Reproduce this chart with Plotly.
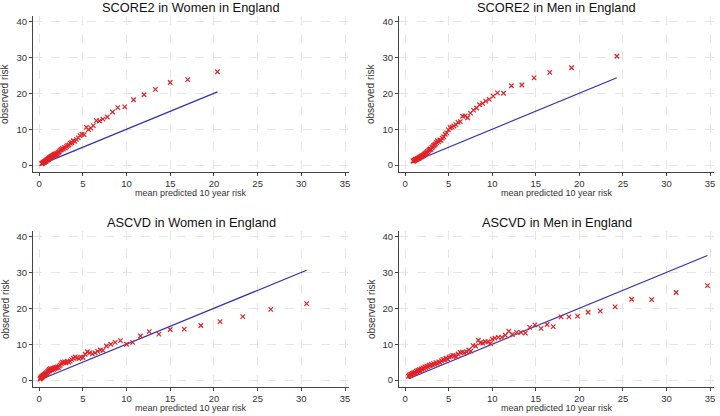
import plotly.graph_objects as go

# panel titles
titles = ["SCORE2 in Women in England", "SCORE2 in Men in England",
          "ASCVD in Women in England", "ASCVD in Men in England"]

# SCORE2, women: mean predicted vs observed 10 year risk (%)
score2_women_pred = [0.30, 0.35, 0.40, 0.45, 0.50, 0.55, 0.60, 0.65, 0.70, 0.75, 0.80, 0.85,
                     0.90, 0.95, 1.00, 1.05, 1.10, 1.15, 1.20, 1.25, 1.30, 1.36, 1.42, 1.48,
                     1.54, 1.60, 1.66, 1.72, 1.78, 1.85, 1.92, 2.00, 2.08, 2.16, 2.25, 2.34,
                     2.44, 2.54, 2.65, 2.76, 2.88, 3.00, 3.13, 3.27, 3.42, 3.57, 3.73, 3.90,
                     4.08, 4.27, 4.47, 4.68, 4.90, 5.15, 5.40, 5.65, 5.92, 6.20, 6.55, 6.90,
                     7.30, 7.80, 8.40, 9.00, 9.80, 10.8, 12.0, 13.3, 15.0, 17.0, 20.4]
score2_women_obs = [0.4, 0.5, 0.5, 0.7, 0.7, 0.9, 0.8, 1.0, 1.1, 1.2, 1.1, 1.4,
                    1.5, 1.4, 1.7, 1.6, 1.9, 1.8, 2.1, 1.9, 2.2, 2.4, 2.2, 2.6,
                    2.5, 2.8, 2.6, 3.0, 2.8, 3.1, 2.9, 3.3, 3.1, 3.5, 3.6, 3.9,
                    4.2, 4.3, 4.6, 4.5, 4.9, 4.8, 5.2, 5.5, 5.6, 6.1, 6.3, 6.8,
                    6.6, 7.1, 7.6, 8.2, 8.6, 8.5, 10.5, 9.9, 10.3, 11.0, 12.4, 12.3,
                    12.8, 13.4, 14.8, 16.0, 16.2, 18.2, 19.6, 21.1, 23.0, 23.8, 26.0]

# SCORE2, men
score2_men_pred = [0.90, 0.98, 1.05, 1.12, 1.18, 1.24, 1.30, 1.36, 1.42, 1.48, 1.54, 1.60,
                   1.66, 1.72, 1.78, 1.84, 1.90, 1.96, 2.02, 2.08, 2.14, 2.20, 2.27, 2.34,
                   2.41, 2.48, 2.55, 2.63, 2.71, 2.79, 2.88, 2.97, 3.06, 3.16, 3.26, 3.37,
                   3.48, 3.60, 3.72, 3.85, 3.98, 4.12, 4.27, 4.43, 4.60, 4.78, 4.97, 5.17,
                   5.38, 5.60, 5.83, 6.07, 6.33, 6.60, 6.88, 7.18, 7.50, 7.85, 8.20, 8.55,
                   8.90, 9.25, 9.65, 10.1, 10.6, 11.3, 12.2, 13.4, 14.8, 16.6, 19.1, 24.3]
score2_men_obs = [1.2, 1.1, 1.4, 1.3, 1.6, 1.5, 1.7, 1.6, 1.9, 1.8, 2.0, 1.9,
                  2.2, 2.1, 2.3, 2.5, 2.3, 2.6, 2.5, 2.8, 2.7, 3.0, 3.2, 3.1,
                  3.5, 3.4, 3.8, 3.7, 4.1, 4.3, 4.5, 4.4, 4.9, 5.1, 5.4, 5.6,
                  5.9, 6.3, 6.8, 6.5, 7.0, 6.9, 7.5, 7.9, 8.6, 9.0, 9.8, 10.4,
                  10.6, 10.9, 11.3, 11.9, 12.1, 13.6, 13.7, 13.2, 14.5, 15.3, 15.9, 16.8,
                  17.2, 17.8, 18.3, 19.2, 20.1, 20.0, 22.1, 22.3, 24.3, 25.8, 27.1, 30.3]

# ASCVD, women
ascvd_women_pred = [0.10, 0.15, 0.20, 0.25, 0.30, 0.35, 0.40, 0.45, 0.50, 0.55, 0.60, 0.65,
                    0.70, 0.75, 0.80, 0.86, 0.92, 0.98, 1.04, 1.10, 1.16, 1.22, 1.29, 1.36,
                    1.43, 1.50, 1.58, 1.66, 1.74, 1.82, 1.91, 2.00, 2.10, 2.20, 2.31, 2.42,
                    2.54, 2.66, 2.79, 2.93, 3.07, 3.22, 3.38, 3.55, 3.73, 3.92, 4.12, 4.33,
                    4.55, 4.78, 5.02, 5.27, 5.53, 5.80, 6.10, 6.40, 6.70, 7.00, 7.30, 7.70,
                    8.20, 8.70, 9.30, 10.0, 10.7, 11.6, 12.6, 13.7, 15.0, 16.6, 18.5, 20.7,
                    23.3, 26.5, 30.6]
ascvd_women_obs = [0.3, 0.6, 0.5, 0.9, 0.7, 1.1, 0.9, 1.3, 1.2, 1.5, 1.3, 1.7,
                   1.5, 1.9, 1.7, 2.1, 1.9, 2.4, 2.2, 2.7, 3.0, 2.6, 3.2, 2.9,
                   3.1, 2.8, 3.3, 3.0, 3.4, 3.2, 3.6, 3.4, 3.7, 3.5, 3.9, 4.2,
                   4.6, 5.0, 4.8, 5.1, 4.8, 5.2, 5.0, 5.3, 5.7, 6.1, 6.5, 6.2,
                   6.0, 6.4, 6.3, 7.2, 7.9, 7.6, 7.3, 7.6, 8.0, 8.4, 8.3, 9.5,
                   10.0, 10.5, 11.0, 10.0, 10.5, 12.3, 13.5, 12.8, 14.1, 14.2, 15.2, 16.3,
                   17.7, 19.7, 21.3]

# ASCVD, men
ascvd_men_pred = [0.40, 0.48, 0.56, 0.64, 0.72, 0.80, 0.88, 0.96, 1.04, 1.12, 1.20, 1.29,
                  1.38, 1.47, 1.56, 1.65, 1.75, 1.85, 1.95, 2.05, 2.16, 2.27, 2.38, 2.50,
                  2.62, 2.74, 2.87, 3.00, 3.13, 3.27, 3.41, 3.56, 3.71, 3.86, 4.02, 4.18,
                  4.35, 4.52, 4.70, 4.88, 5.07, 5.26, 5.46, 5.67, 5.88, 6.10, 6.33, 6.56,
                  6.80, 7.05, 7.30, 7.55, 7.80, 8.10, 8.40, 8.65, 8.90, 9.20, 9.50, 9.80,
                  10.0, 10.3, 10.7, 11.1, 11.5, 11.9, 12.3, 12.8, 13.3, 13.8, 14.3, 14.9,
                  15.6, 16.3, 17.0, 17.9, 18.8, 19.8, 21.0, 22.4, 24.1, 26.0, 28.3, 31.1,
                  34.7]
ascvd_men_obs = [1.1, 1.4, 1.2, 1.6, 1.5, 1.9, 1.7, 2.0, 1.9, 2.2, 2.1, 2.5,
                 2.3, 2.7, 2.5, 2.9, 2.7, 3.1, 3.0, 3.4, 3.2, 3.7, 3.5, 3.9,
                 3.7, 4.2, 4.0, 4.4, 4.2, 4.6, 4.4, 4.9, 4.6, 5.1, 4.9, 5.4,
                 5.8, 5.6, 6.1, 5.9, 6.4, 6.6, 6.9, 6.8, 6.5, 7.2, 7.7, 7.8,
                 7.6, 7.9, 8.4, 8.1, 9.6, 9.5, 11.1, 10.4, 10.3, 10.7, 10.7, 10.2,
                 11.4, 11.7, 11.9, 11.9, 12.5, 13.6, 12.7, 13.3, 13.3, 13.1, 14.7, 15.4,
                 14.4, 15.5, 14.9, 17.6, 17.6, 17.8, 18.9, 19.2, 20.4, 22.5, 22.4, 24.4,
                 26.3]

x_ticks = [0, 5, 10, 15, 20, 25, 30, 35]
y_ticks = [0, 10, 20, 30, 40]
x_label = "mean predicted 10 year risk"
y_label = "observed risk"

panels = [
    (score2_women_pred, score2_women_obs),
    (score2_men_pred, score2_men_obs),
    (ascvd_women_pred, ascvd_women_obs),
    (ascvd_men_pred, ascvd_men_obs),
]

# plot areas in pixels (left, right, top, bottom) for a 720x416 page
W, H = 720, 416
boxes = [(33, 349, 16, 172), (399, 714, 16, 172),
         (33, 349, 231, 387), (399, 714, 231, 387)]

FONT = "Arial, Liberation Sans, Helvetica, sans-serif"
RED = "#e02226"
BLUE = "#3131b8"
GREY = "#444444"

fig = go.Figure()
annotations = []

for i, ((pred, obs), (l, r, t, b)) in enumerate(zip(panels, boxes)):
    n = "" if i == 0 else str(i + 1)
    xa, ya = "x" + n, "y" + n

    # reference line y = x over the range of predictions
    lo, hi = min(pred), max(pred)
    fig.add_trace(go.Scatter(x=[lo, hi], y=[lo, hi], mode="lines",
                             line=dict(color=BLUE, width=1.2),
                             xaxis=xa, yaxis=ya, showlegend=False))
    fig.add_trace(go.Scatter(x=pred, y=obs, mode="markers",
                             marker=dict(symbol="x-thin", size=4.5,
                                         line=dict(color=RED, width=1.2)),
                             xaxis=xa, yaxis=ya, showlegend=False))

    axis_common = dict(
        showline=True, linecolor=GREY, linewidth=1,
        ticks="outside", ticklen=3, tickcolor=GREY,
        showgrid=True, gridcolor="#e6e6e6", griddash="dash", gridwidth=1,
        zeroline=False, mirror=False,
        tickfont=dict(family=FONT, size=9.5, color="#333333"),
    )
    fig.layout["xaxis" + n] = dict(
        axis_common, domain=[l / W, r / W], anchor=ya,
        range=[-0.7, 35.45], tickvals=x_ticks,
    )
    fig.layout["yaxis" + n] = dict(
        axis_common, domain=[1 - b / H, 1 - t / H], anchor=xa,
        range=[-1.9, 41.5], tickvals=y_ticks,
    )

    # panel title
    annotations.append(dict(
        text=titles[i], xref="paper", yref="paper",
        x=(l + r) / 2 / W, y=1 - (t - 9) / H,
        xanchor="center", yanchor="middle", showarrow=False,
        font=dict(family=FONT, size=12.8, color="#111111"),
    ))
    # x axis title
    annotations.append(dict(
        text=x_label, xref="paper", yref="paper",
        x=(l + r) / 2 / W, y=1 - (b + 20.5) / H,
        xanchor="center", yanchor="middle", showarrow=False,
        font=dict(family=FONT, size=9, color="#333333"),
    ))
    # y axis title
    annotations.append(dict(
        text=y_label, xref="paper", yref="paper", textangle=-90,
        x=(l - 28) / W, y=1 - (t + b) / 2 / H,
        xanchor="center", yanchor="middle", showarrow=False,
        font=dict(family=FONT, size=10, color="#333333"),
    ))

fig.update_layout(
    width=W, height=H,
    margin=dict(l=0, r=0, t=0, b=0),
    paper_bgcolor="white", plot_bgcolor="white",
    annotations=annotations,
)

# the page body has a default 8px margin; drop it so the figure fills the window
fig.write_html("out.html", config={"displayModeBar": False},
               post_script="document.body.style.margin='0';")
